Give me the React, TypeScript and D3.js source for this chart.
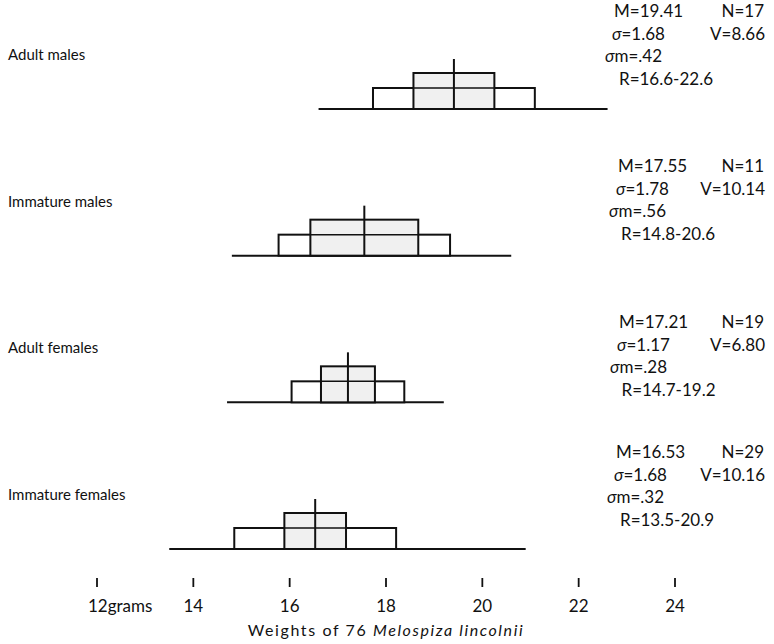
import React from "react";
import * as d3 from "d3";

// groups, top to bottom
const groups = ["Adult males", "Immature males", "Adult females", "Immature females"];
const means = [19.41, 17.55, 17.21, 16.53];
const counts = [17, 11, 19, 29];
const sigmas = [1.68, 1.78, 1.17, 1.68];
const variances = ["8.66", "10.14", "6.80", "10.16"];
const sigmaM = [".42", ".56", ".28", ".32"];
const rangeLo = [16.6, 14.8, 14.7, 13.5];
const rangeHi = [22.6, 20.6, 19.2, 20.9];

const ticks = [12, 14, 16, 18, 20, 22, 24];

const W = 774;
const H = 644;
const font = "Lato, 'DejaVu Sans', sans-serif";

const x = d3.scaleLinear().domain([12, 24]).range([97, 675]);
const yBase = d3.scalePoint<string>().domain(groups).range([109, 549]);

// y of the first stats line for each block, and a small x nudge
const statsTop = [17, 172, 328, 458];
const statsDx = [0, 4, 5, 2];

const App = () => {
  return (
    <svg width={W} height={H} style={{ position: "absolute", left: 0, top: 0, background: "#fff" }}>
      {groups.map((g, i) => {
        const b = yBase(g) as number;
        const m = means[i];
        const sd = sigmas[i];
        const se2 = 2 * parseFloat(sigmaM[i]);
        const t = statsTop[i];
        const dx = statsDx[i];
        return (
          <g key={g}>
            <text x={8} y={b - 49} fontFamily={font} fontSize={15} fill="#111">
              {g}
            </text>
            <line x1={x(rangeLo[i])} x2={x(rangeHi[i])} y1={b} y2={b} stroke="#111" strokeWidth={2} />
            <rect x={x(m - sd)} y={b - 21} width={x(m + sd) - x(m - sd)} height={21}
              fill="#fff" stroke="#111" strokeWidth={2} />
            <rect x={x(m - se2)} y={b - 36} width={x(m + se2) - x(m - se2)} height={36}
              fill="#f0f0f0" stroke="#111" strokeWidth={2} />
            <line x1={x(m - se2)} x2={x(m + se2)} y1={b - 21} y2={b - 21} stroke="#111" strokeWidth={1.5} />
            <line x1={x(m)} x2={x(m)} y1={b - 50} y2={b} stroke="#111" strokeWidth={2} />

            <g fontFamily={font} fontSize={17} fill="#111">
              <text x={614 + dx} y={t}>{`M=${m.toFixed(2)}`}</text>
              <text x={764} y={t} textAnchor="end">{`N=${counts[i]}`}</text>
              <text x={612 + dx} y={t + 23}>
                <tspan fontStyle="italic">σ</tspan>{`=${sigmas[i].toFixed(2)}`}
              </text>
              <text x={765} y={t + 23} textAnchor="end">{`V=${variances[i]}`}</text>
              <text x={605 + dx} y={t + 45}>
                <tspan fontStyle="italic">σ</tspan>{`m=${sigmaM[i]}`}
              </text>
              <text x={619 + dx / 2} y={t + 68}>{`R=${rangeLo[i].toFixed(1)}-${rangeHi[i].toFixed(1)}`}</text>
            </g>
          </g>
        );
      })}

      {ticks.map((v) => (
        <g key={v}>
          <line x1={x(v)} x2={x(v)} y1={578} y2={587} stroke="#111" strokeWidth={1.8} />
          <text x={v === 12 ? x(v) - 9 : x(v)} y={612} textAnchor={v === 12 ? "start" : "middle"}
            fontFamily={font} fontSize={17} fill="#111">
            {v === 12 ? "12grams" : v}
          </text>
        </g>
      ))}

      <text x={x(18)} y={636} textAnchor="middle" fontFamily={font} fontSize={16}
        letterSpacing={1.6} fill="#111">
        Weights of 76 <tspan fontStyle="italic">Melospiza lincolnii</tspan>
      </text>
    </svg>
  );
};

export default App;
